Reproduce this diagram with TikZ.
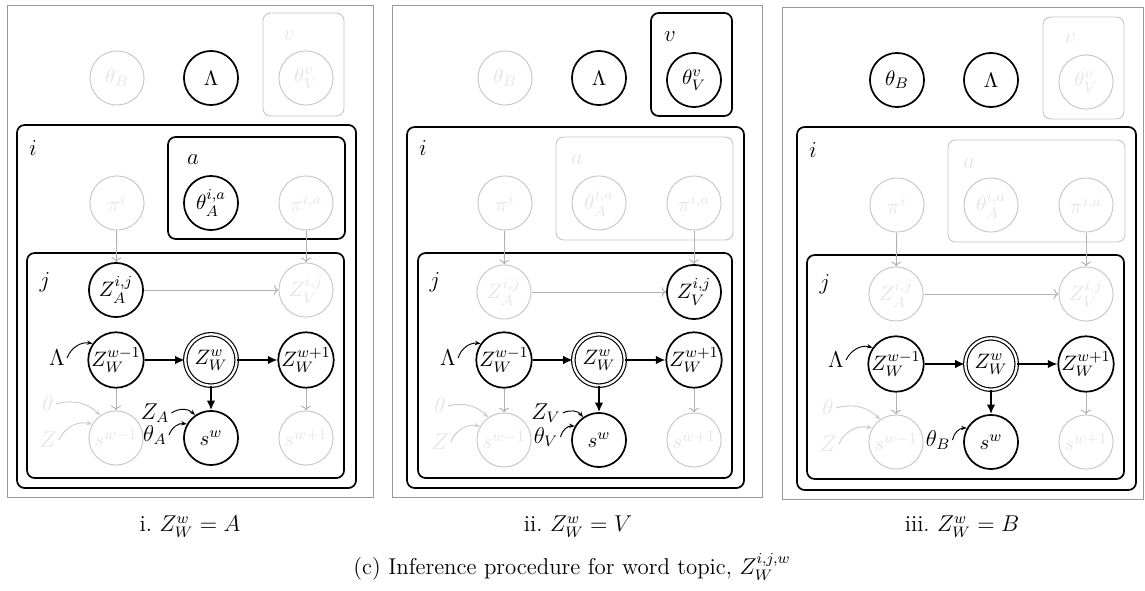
\documentclass[tikz,border=0pt]{standalone}
\usepackage{amsmath}
\usepackage{amssymb}
\usetikzlibrary{arrows.meta,positioning}

\begin{document}
\begin{tikzpicture}[x=0.525pt,y=-0.525pt,
        rv/.style={circle,draw=black,line width=0.9pt,minimum size=28.4pt,inner sep=0pt,font=\fontsize{11}{13}\selectfont},
        obs/.style={rv,double,line width=0.6pt,double distance=1.2pt,minimum size=27pt},
        ghost/.style={circle,draw=black!22,line width=0.5pt,text=black!10,minimum size=28.4pt,inner sep=0pt,font=\fontsize{11}{13}\selectfont},
        plate/.style={draw=black,line width=0.9pt,rounded corners=4pt},
        gplate/.style={draw=black!22,line width=0.5pt,rounded corners=4pt},
        frame/.style={draw=black!40,line width=0.5pt},
        edge/.style={-{Latex[length=5pt,width=4.5pt]},line width=0.9pt},
        gedge/.style={-{To[length=2.5pt]},draw=black!30,line width=0.5pt},
        hint/.style={-{Stealth[length=3pt]},line width=0.5pt},
        ghint/.style={hint,draw=black!20},
        tag/.style={inner sep=1pt,font=\large},
        gtag/.style={tag,text=black!10},
        captext/.style={font=\large}]
        \useasboundingbox (0,0) rectangle (1145,591);
        \draw[frame] (7,5) rectangle (373,497);
        \draw[frame] (392,5) rectangle (762,497);
        \draw[frame] (782,7) rectangle (1143,499);
        % i: Z_W^w = A
        \begin{scope}
        \node[ghost] (ithb) at (117,78) {$\theta_B$};
        \node[rv] (ilam) at (211,78) {$\Lambda$};
        \draw[gplate] (263,13) rectangle (344,116);
        \node[gtag] (iv) at (289,36) {$v$};
        \node[ghost] (ithv) at (306,78) {$\theta_V^v$};
        \draw[plate] (17,125) rectangle (356,488);
        \node[tag] (ii) at (33,148) {$i$};
        \draw[plate] (168,137) rectangle (345,239);
        \node[tag] (ia) at (193,160) {$a$};
        \node[ghost] (ipi) at (117,203) {$\pi^{i}$};
        \node[rv] (itha) at (211,203) {$\theta_A^{i,a}$};
        \node[ghost] (ipia) at (306,203) {$\pi^{i,a}$};
        \draw[plate] (27,253) rectangle (344,478);
        \node[tag] (ij) at (45,282) {$j$};
        \node[rv] (iza) at (116,290) {$Z_A^{i,j}$};
        \node[ghost] (izv) at (306,290) {$Z_V^{i,j}$};
        \node[rv] (izm) at (116,360) {$Z_W^{w-1}$};
        \node[obs] (izw) at (211,360) {$Z_W^{w}$};
        \node[rv] (izp) at (306,360) {$Z_W^{w+1}$};
        \node[ghost] (ism) at (116,438) {$s^{w-1}$};
        \node[rv] (isw) at (211,438) {$s^{w}$};
        \node[ghost] (isp) at (306,438) {$s^{w+1}$};
        \draw[gedge] (ipi) -- (iza);
        \draw[gedge] (ipia) -- (izv);
        \draw[gedge] (iza) -- (izv);
        \draw[edge] (izm) -- (izw);
        \draw[edge] (izw) -- (izp);
        \draw[edge] (izw) -- (isw);
        \draw[gedge] (izm) -- (ism);
        \draw[gedge] (izp) -- (isp);
        \node[tag] (ilamin) at (57,358) {$\Lambda$};
        \draw[hint] (ilamin.east) to[bend left=40] (izm.145);
        \node[tag] (izain) at (155,413) {$Z_A$};
        \node[tag] (ithain) at (155,435) {$\theta_A$};
        \draw[hint] (izain.east) to[bend left=40] (isw.125);
        \draw[hint] (ithain.east) to[bend left=40] (isw.150);
        \node[gtag] (ithg) at (48,404) {$\theta$};
        \node[gtag] (izg) at (48,440) {$Z$};
        \draw[ghint] (ithg.east) to[bend left=30] (ism.125);
        \draw[ghint] (izg.east) to[bend left=40] (ism.150);
        \end{scope}
        % ii: Z_W^w = V
        \begin{scope}[shift={(388,0)}]
        \node[ghost] (jthb) at (117,78) {$\theta_B$};
        \node[rv] (jlam) at (211,78) {$\Lambda$};
        \draw[plate] (263,13) rectangle (344,116);
        \node[tag] (jv) at (282,37) {$v$};
        \node[rv] (jthv) at (306,80) {$\theta_V^v$};
        \draw[plate] (19,127) rectangle (356,488);
        \node[tag] (ji) at (35,148) {$i$};
        \draw[gplate] (168,137) rectangle (345,240);
        \node[gtag] (ja) at (189,160) {$a$};
        \node[ghost] (jpi) at (117,203) {$\pi^{i}$};
        \node[ghost] (jtha) at (211,203) {$\theta_A^{i,a}$};
        \node[ghost] (jpia) at (306,203) {$\pi^{i,a}$};
        \draw[plate] (30,253) rectangle (344,478);
        \node[tag] (jj) at (47,282) {$j$};
        \node[ghost] (jza) at (116,292) {$Z_A^{i,j}$};
        \node[rv] (jzv) at (306,292) {$Z_V^{i,j}$};
        \node[rv] (jzm) at (116,360) {$Z_W^{w-1}$};
        \node[obs] (jzw) at (211,360) {$Z_W^{w}$};
        \node[rv] (jzp) at (306,360) {$Z_W^{w+1}$};
        \node[ghost] (jsm) at (116,440) {$s^{w-1}$};
        \node[rv] (jsw) at (211,440) {$s^{w}$};
        \node[ghost] (jsp) at (306,440) {$s^{w+1}$};
        \draw[gedge] (jpi) -- (jza);
        \draw[gedge] (jpia) -- (jzv);
        \draw[gedge] (jza) -- (jzv);
        \draw[edge] (jzm) -- (jzw);
        \draw[edge] (jzw) -- (jzp);
        \draw[edge] (jzw) -- (jsw);
        \draw[gedge] (jzm) -- (jsm);
        \draw[gedge] (jzp) -- (jsp);
        \node[tag] (jlamin) at (60,358) {$\Lambda$};
        \draw[hint] (jlamin.east) to[bend left=40] (jzm.145);
        \node[tag] (jzvin) at (158,413) {$Z_V$};
        \node[tag] (jthvin) at (158,437) {$\theta_V$};
        \draw[hint] (jzvin.east) to[bend left=40] (jsw.125);
        \draw[hint] (jthvin.east) to[bend left=40] (jsw.150);
        \node[gtag] (jthg) at (52,406) {$\theta$};
        \node[gtag] (jzg) at (52,442) {$Z$};
        \draw[ghint] (jthg.east) to[bend left=30] (jsm.125);
        \draw[ghint] (jzg.east) to[bend left=40] (jsm.150);
        \end{scope}
        % iii: Z_W^w = B
        \begin{scope}[shift={(780,2)}]
        \node[rv] (kthb) at (117,78) {$\theta_B$};
        \node[rv] (klam) at (211,78) {$\Lambda$};
        \draw[gplate] (263,15) rectangle (344,117);
        \node[gtag] (kv) at (290,37) {$v$};
        \node[ghost] (kthv) at (306,80) {$\theta_V^v$};
        \draw[plate] (17,125) rectangle (356,488);
        \node[tag] (ki) at (33,148) {$i$};
        \draw[gplate] (168,138) rectangle (345,240);
        \node[gtag] (ka) at (189,162) {$a$};
        \node[ghost] (kpi) at (117,203) {$\pi^{i}$};
        \node[ghost] (ktha) at (211,203) {$\theta_A^{i,a}$};
        \node[ghost] (kpia) at (306,203) {$\pi^{i,a}$};
        \draw[plate] (27,253) rectangle (344,477);
        \node[tag] (kj) at (45,282) {$j$};
        \node[ghost] (kza) at (116,292) {$Z_A^{i,j}$};
        \node[ghost] (kzv) at (306,292) {$Z_V^{i,j}$};
        \node[rv] (kzm) at (116,362) {$Z_W^{w-1}$};
        \node[obs] (kzw) at (211,362) {$Z_W^{w}$};
        \node[rv] (kzp) at (306,362) {$Z_W^{w+1}$};
        \node[ghost] (ksm) at (116,440) {$s^{w-1}$};
        \node[rv] (ksw) at (211,440) {$s^{w}$};
        \node[ghost] (ksp) at (306,440) {$s^{w+1}$};
        \draw[gedge] (kpi) -- (kza);
        \draw[gedge] (kpia) -- (kzv);
        \draw[gedge] (kza) -- (kzv);
        \draw[edge] (kzm) -- (kzw);
        \draw[edge] (kzw) -- (kzp);
        \draw[edge] (kzw) -- (ksw);
        \draw[gedge] (kzm) -- (ksm);
        \draw[gedge] (kzp) -- (ksp);
        \node[tag] (klamin) at (56,358) {$\Lambda$};
        \draw[hint] (klamin.east) to[bend left=40] (kzm.145);
        \node[tag] (kthbin) at (158,438) {$\theta_B$};
        \draw[hint] (kthbin.east) to[bend left=40] (ksw.150);
        \node[gtag] (kthg) at (48,406) {$\theta$};
        \node[gtag] (kzg) at (48,442) {$Z$};
        \draw[ghint] (kthg.east) to[bend left=30] (ksm.125);
        \draw[ghint] (kzg.east) to[bend left=40] (ksm.150);
        \end{scope}
        % captions
        \node[captext] (capi) at (190,527) {i.\ $Z_W^w = A$};
        \node[captext] (capii) at (578,527) {ii.\ $Z_W^w = V$};
        \node[captext] (capiii) at (962,527) {iii.\ $Z_W^w = B$};
        \node[captext] (capc) at (572,567) {(c) Inference procedure for word topic, $Z_W^{i,j,w}$};
\end{tikzpicture}
\end{document}
